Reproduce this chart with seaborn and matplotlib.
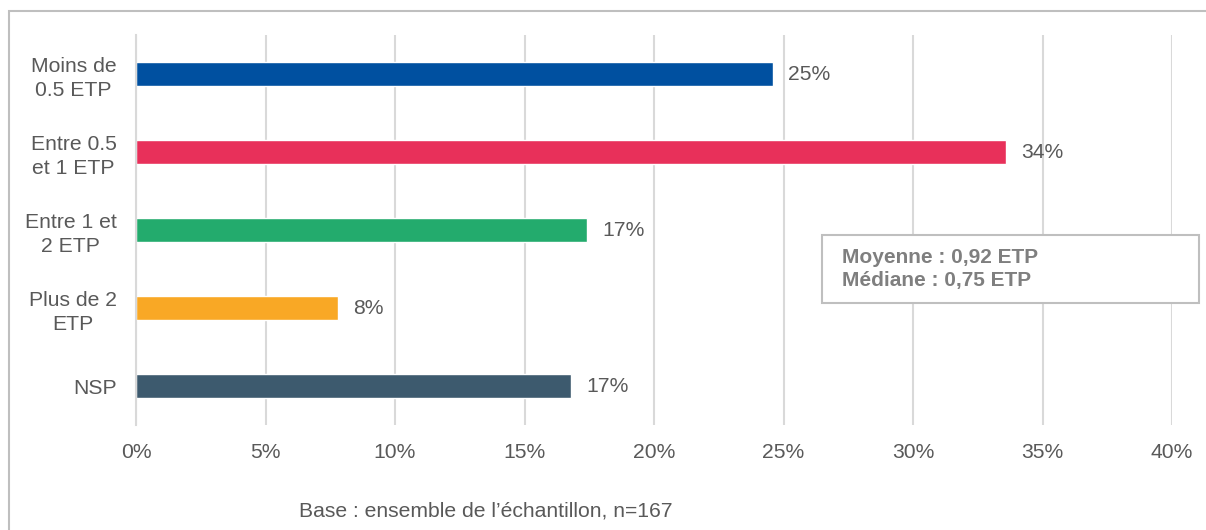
import matplotlib
matplotlib.use("Agg")
import matplotlib.pyplot as plt
from matplotlib.patches import Rectangle
import seaborn as sns
import pandas as pd

categories = ["Moins de\n0.5 ETP", "Entre 0.5\net 1 ETP", "Entre 1 et\n2 ETP", "Plus de 2\nETP", "NSP"]
values = [24.6, 33.6, 17.4, 7.8, 16.8]
labels = ["25%", "34%", "17%", "8%", "17%"]
colors = ["#0050A0", "#E8305A", "#23AB6D", "#F9A825", "#3D5A6E"]
xticks = [0, 5, 10, 15, 20, 25, 30, 35, 40]
stats_text = "Moyenne : 0,92 ETP\nMédiane : 0,75 ETP"
base_text = "Base : ensemble de l\u2019échantillon, n=167"

sns.set_style("white")
plt.rcParams['font.family'] = ['Liberation Sans', 'DejaVu Sans']

W, H = 1206, 530
fig = plt.figure(figsize=(W / 100, H / 100), dpi=100)
ax = fig.add_axes([136 / W, 1 - 425 / H, (1172 - 136) / W, (425 - 35) / H])

df = pd.DataFrame({"cat": categories, "val": values})
sns.barplot(data=df, x="val", y="cat", hue="cat", palette=colors,
            width=0.32, orient="h", legend=False, ax=ax, saturation=1)

for cont, lab in zip(ax.containers, labels):
    ax.bar_label(cont, labels=[lab], padding=11, fontsize=15.2, color="#595959")

ax.set_xlim(0, 40)
ax.set_xticks(xticks)
ax.set_xticklabels([f"{t}%" for t in xticks])
ax.xaxis.grid(True, color="#D9D9D9", linewidth=1.5)
ax.set_axisbelow(True)
ax.set_xlabel("")
ax.set_ylabel("")
for s in ["top", "right", "bottom"]:
    ax.spines[s].set_visible(False)
ax.spines["left"].set_color("#D9D9D9")
ax.spines["left"].set_linewidth(1.5)
ax.tick_params(axis="x", length=0, pad=13, labelsize=15.2, labelcolor="#595959")
ax.tick_params(axis="y", length=0, pad=14, labelsize=15.2, labelcolor="#595959")
for t in ax.get_yticklabels():
    t.set_multialignment("center")
    t.set_linespacing(1.35)

# stats box
fig.patches.append(Rectangle((822 / W, 1 - 303 / H), (1199 - 822) / W, (303 - 235) / H,
                             transform=fig.transFigure, facecolor="white",
                             edgecolor="#BFBFBF", linewidth=1.5, zorder=5))
fig.text(842 / W, 1 - 269 / H, stats_text, fontsize=15, fontweight="bold",
         color="#7F7F7F", va="center", ha="left", linespacing=1.3, zorder=6)

fig.text(299 / W, 1 - 511 / H, base_text, fontsize=15.2, color="#595959",
         va="center", ha="left")

# outer frame
fig.patches.append(Rectangle((9 / W, -0.05), 1.2, 1 - 11 / H + 0.05,
                             transform=fig.transFigure, fill=False,
                             edgecolor="#BFBFBF", linewidth=1.5, zorder=0))

fig.savefig("out.png", dpi=100)
